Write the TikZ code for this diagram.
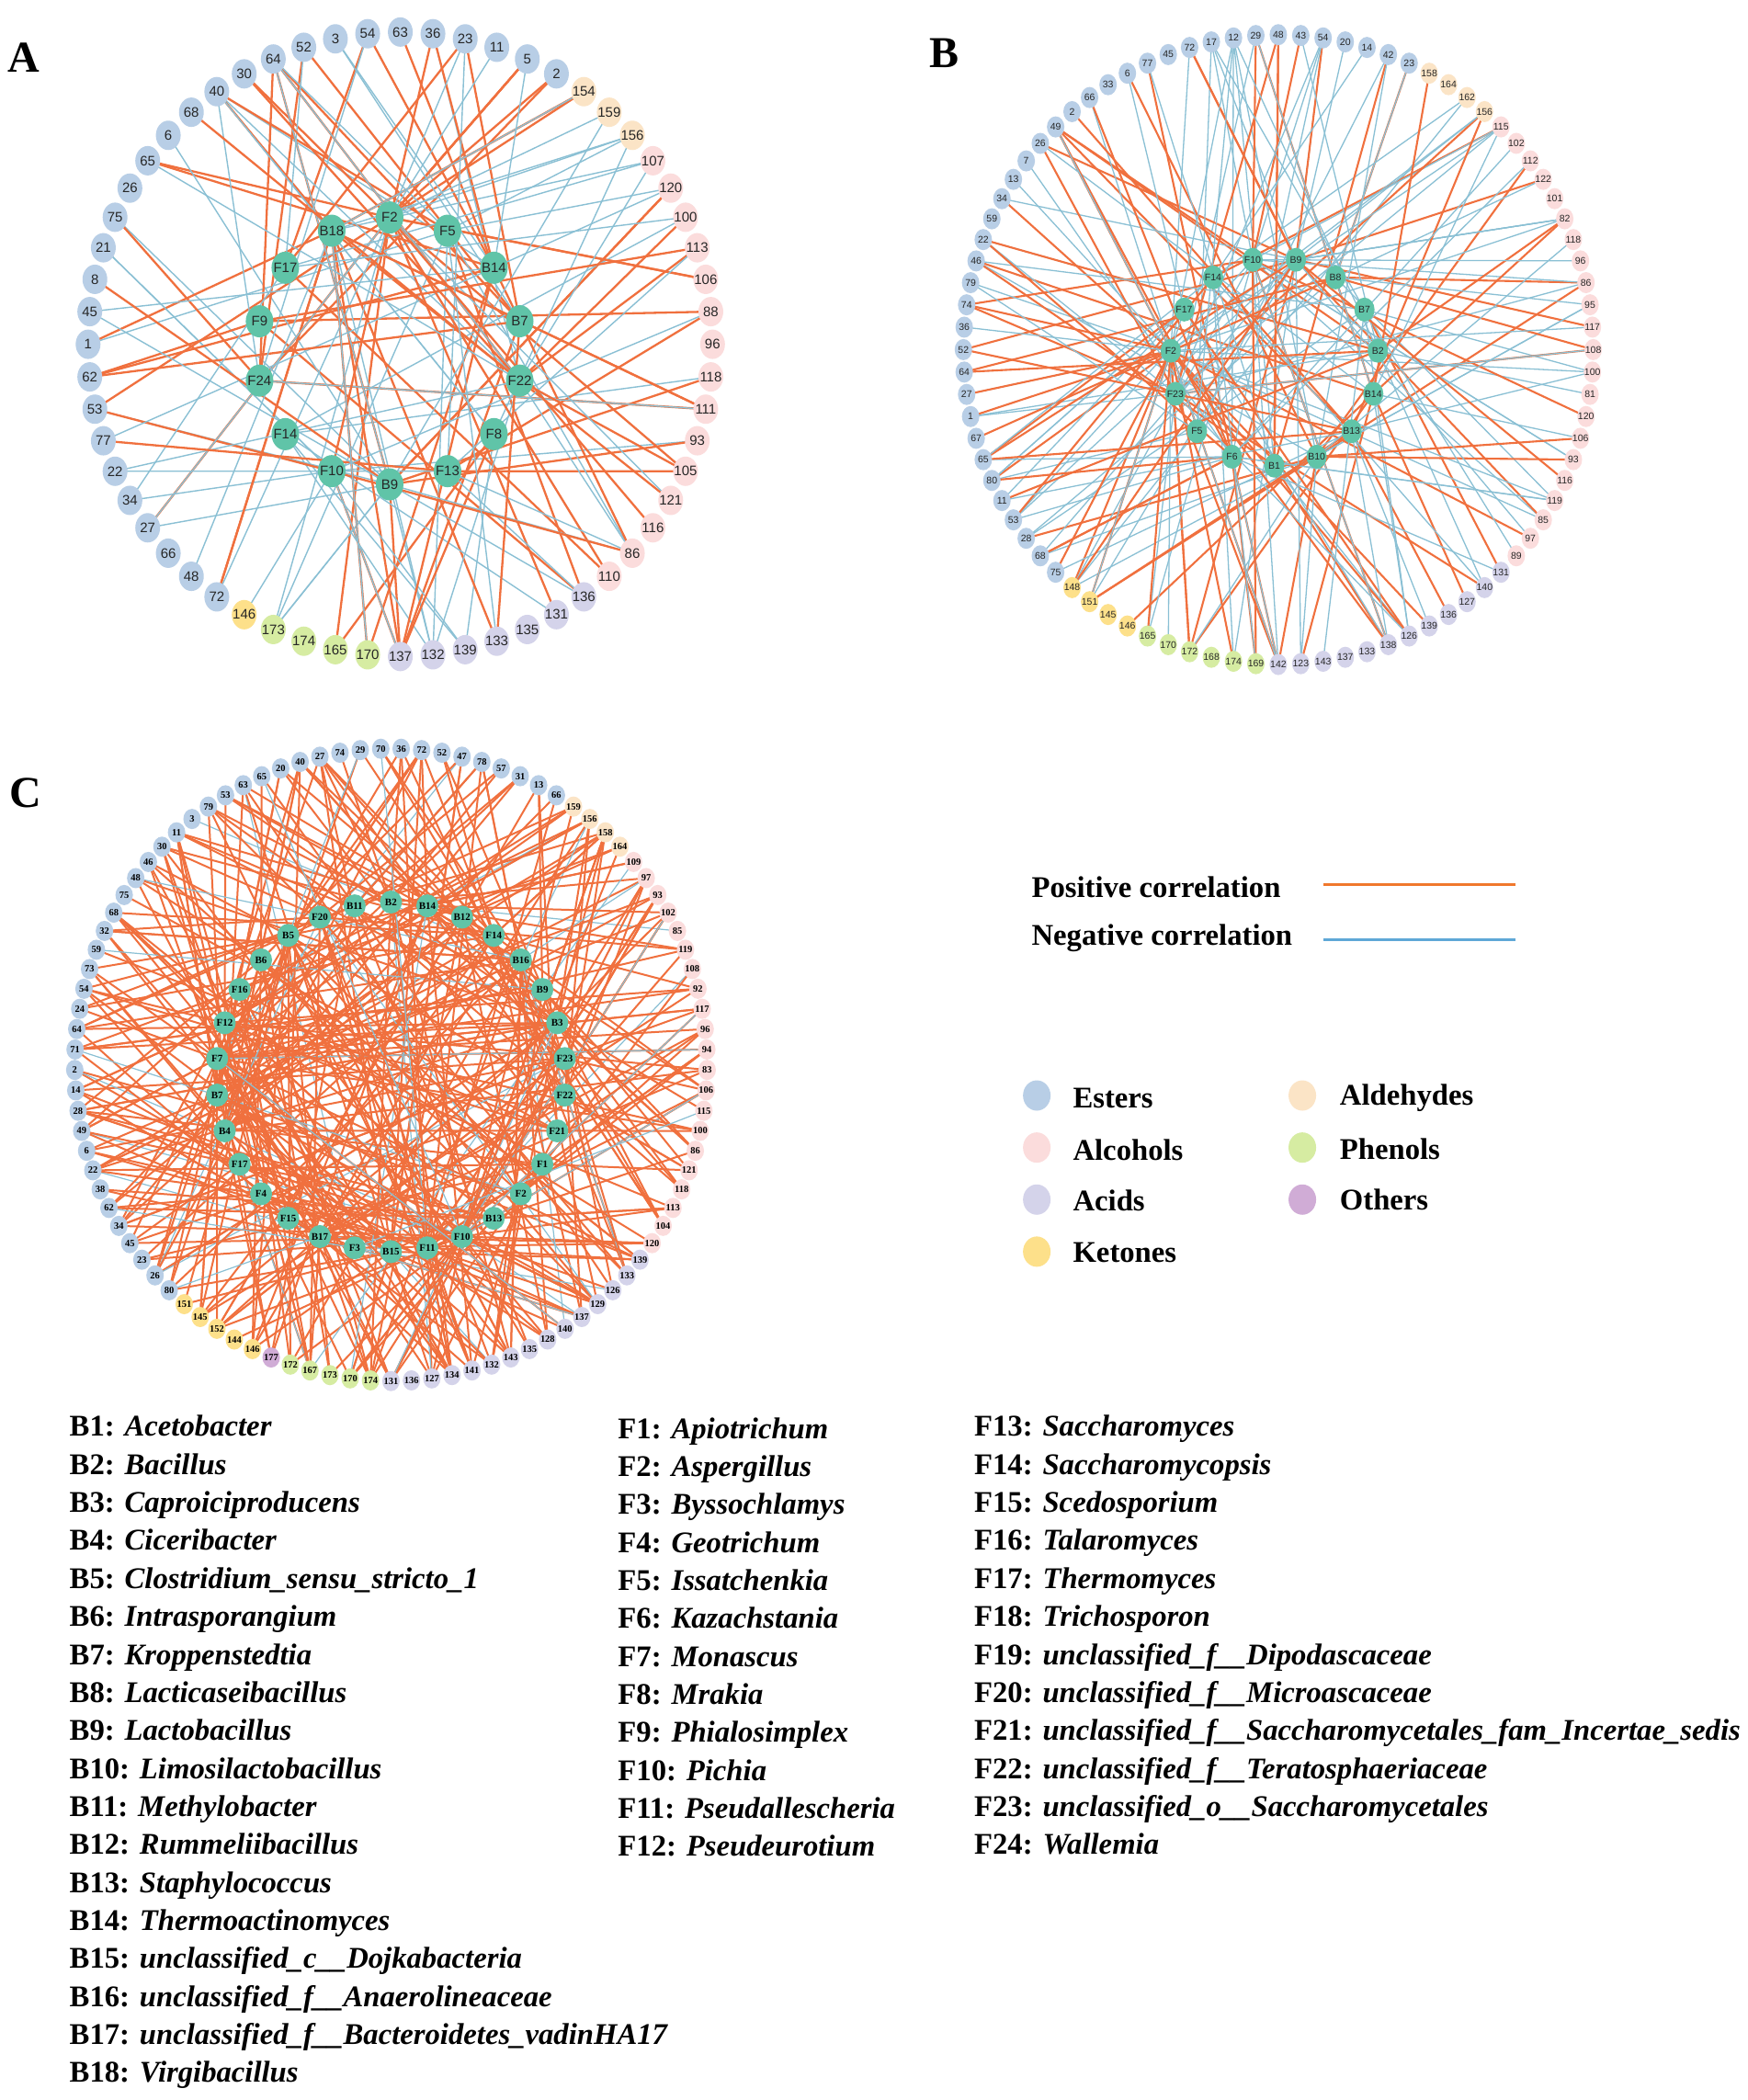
\documentclass[tikz,border=0pt]{standalone}
\usepackage{fontspec}
\setmainfont{Liberation Serif}
\newfontfamily\arialfont{Liberation Sans}
\usepackage{xcolor}
\usetikzlibrary{shapes.geometric, calc, backgrounds}

\definecolor{ester}{RGB}{184,206,230}
\definecolor{alcohol}{RGB}{251,220,220}
\definecolor{acid}{RGB}{212,211,234}
\definecolor{ketone}{RGB}{253,224,138}
\definecolor{aldehyde}{RGB}{251,228,198}
\definecolor{phenol}{RGB}{214,236,162}
\definecolor{other}{RGB}{208,172,214}
\definecolor{hubgreen}{RGB}{96,196,168}
\definecolor{posorange}{RGB}{240,112,62}
\definecolor{negblue}{RGB}{138,192,212}
\definecolor{legorange}{RGB}{240,120,45}
\definecolor{legblue}{RGB}{95,168,215}

\pgfmathdeclarerandomlist{hubsA}{{1}{1}{1}{1}{1}{8}{8}{8}{8}{8}{14}{14}{14}{5}{5}{5}{3}{3}{3}{9}{9}{7}{7}{10}{10}{11}{11}{13}{13}{12}{4}{4}{2}{2}{6}}
\pgfmathdeclarerandomlist{hubsB}{{1}{1}{2}{2}{3}{3}{4}{5}{5}{6}{7}{8}{8}{8}{9}{9}{10}{11}{12}{12}{12}{13}{13}{14}{15}{15}}
\pgfmathdeclarerandomlist{hubsC}{{1}{2}{3}{4}{5}{6}{7}{8}{9}{10}{11}{12}{13}{14}{15}{16}{17}{18}{19}{20}{21}{22}{23}{24}{25}{26}{27}{28}{29}{30}{24}{24}{24}{14}{14}{14}{7}{7}{8}{5}{15}{16}{25}{28}}

\begin{document}
\begin{tikzpicture}[
    x=1.452pt, y=-1.452pt,
    outA/.style={ellipse, minimum width=27pt, minimum height=32pt, inner sep=0pt, text=black!85, font=\arialfont\fontsize{15}{15}\selectfont},
    hubA/.style={ellipse, fill=hubgreen, minimum width=30pt, minimum height=35pt, inner sep=0pt, text=black!85, font=\arialfont\fontsize{15}{15}\selectfont},
    outB/.style={ellipse, minimum width=19pt, minimum height=23pt, inner sep=0pt, text=black!85, font=\arialfont\fontsize{10.5}{10.5}\selectfont},
    hubB/.style={ellipse, fill=hubgreen, minimum width=22pt, minimum height=26pt, inner sep=0pt, text=black!85, font=\arialfont\fontsize{10.5}{10.5}\selectfont},
    outC/.style={ellipse, minimum width=19pt, minimum height=22pt, inner sep=0pt, font=\bfseries\fontsize{10.5}{10.5}\selectfont},
    hubC/.style={ellipse, fill=hubgreen, minimum width=24pt, minimum height=25pt, inner sep=0pt, font=\bfseries\fontsize{11}{11}\selectfont},
    posA/.style={posorange, line width=2.3pt},
    negA/.style={negblue, line width=1.4pt},
    posB/.style={posorange, line width=2.1pt},
    negB/.style={negblue, line width=1.3pt},
    posC/.style={posorange, line width=2pt},
    negC/.style={negblue, line width=1.2pt},
    panel/.style={font=\bfseries\fontsize{48}{48}\selectfont, inner sep=0pt},
    legtext/.style={anchor=west, inner sep=0pt, font=\bfseries\fontsize{32.7}{36}\selectfont},
    legdot/.style={ellipse, minimum width=30pt, minimum height=33pt, inner sep=0pt},
    listtext/.style={anchor=base west, inner sep=0pt, font=\bfseries\fontsize{32.7}{36}\selectfont}
]
    \useasboundingbox (0,0) rectangle (1310,1573.8);
    \begin{scope}[on background layer]
        \fill[white] (0,0) rectangle (1310,1573.8);
    \end{scope}

    % panel letters
    \node[panel] (letA) at (18,43) {A};
    \node[panel] (letB) at (708,40) {B};
    \node[panel] (letC) at (19,594) {C};

    % ---------- A ----------
    \coordinate (Ac) at (300,258);
    \coordinate (Ahc) at (292,263);
    \foreach \lab [count=\k from 1] in {63,36,23,11,5,2}
        \node[outA, fill=ester] (Ao\k) at ($(Ac)+({-90+(\k-1)*6}:234)$) {\makebox[0pt]{\lab}};
    \foreach \lab [count=\k from 7] in {154,159,156}
        \node[outA, fill=aldehyde] (Ao\k) at ($(Ac)+({-90+(\k-1)*6}:234)$) {\makebox[0pt]{\lab}};
    \foreach \lab [count=\k from 10] in {107,120,100,113,106,88,96,118,111,93,105,121,116,86,110}
        \node[outA, fill=alcohol] (Ao\k) at ($(Ac)+({-90+(\k-1)*6}:234)$) {\makebox[0pt]{\lab}};
    \foreach \lab [count=\k from 25] in {136,131,135,133,139,132,137}
        \node[outA, fill=acid] (Ao\k) at ($(Ac)+({-90+(\k-1)*6}:234)$) {\makebox[0pt]{\lab}};
    \foreach \lab [count=\k from 32] in {170,165,174,173}
        \node[outA, fill=phenol] (Ao\k) at ($(Ac)+({-90+(\k-1)*6}:234)$) {\makebox[0pt]{\lab}};
    \node[outA, fill=ketone] (Ao36) at ($(Ac)+({-90+35*6}:234)$) {\makebox[0pt]{146}};
    \foreach \lab [count=\k from 37] in {72,48,66,27,34,22,77,53,62,1,45,8,21,75,26,65,6,68,40,30,64,52,3,54}
        \node[outA, fill=ester] (Ao\k) at ($(Ac)+({-90+(\k-1)*6}:234)$) {\makebox[0pt]{\lab}};
    \foreach \lab [count=\k] in {F2,F5,B14,B7,F22,F8,F13,B9,F10,F14,F24,F9,F17,B18}
        \node[hubA] (Ah\k) at ($(Ahc)+({-90+(\k-1)/14*360}:100)$) {\makebox[0pt]{\lab}};

    % ---------- B ----------
    \coordinate (Bc) at (958,262);
    \coordinate (Bhc) at (955,271);
    \foreach \lab [count=\k from 1] in {48,43,54,20,14,42,23}
        \node[outB, fill=ester] (Bo\k) at ($(Bc)+({-90+(\k-1)/88*360}:236)$) {\makebox[0pt]{\lab}};
    \foreach \lab [count=\k from 8] in {158,164,162,156}
        \node[outB, fill=aldehyde] (Bo\k) at ($(Bc)+({-90+(\k-1)/88*360}:236)$) {\makebox[0pt]{\lab}};
    \foreach \lab [count=\k from 12] in {115,102,112,122,101,82,118,96,86,95,117,108,100,81,120,106,93,116,119,85,97,89}
        \node[outB, fill=alcohol] (Bo\k) at ($(Bc)+({-90+(\k-1)/88*360}:236)$) {\makebox[0pt]{\lab}};
    \foreach \lab [count=\k from 34] in {131,140,127,136,139,126,138,133,137,143,123,142}
        \node[outB, fill=acid] (Bo\k) at ($(Bc)+({-90+(\k-1)/88*360}:236)$) {\makebox[0pt]{\lab}};
    \foreach \lab [count=\k from 46] in {169,174,168,172,170,165}
        \node[outB, fill=phenol] (Bo\k) at ($(Bc)+({-90+(\k-1)/88*360}:236)$) {\makebox[0pt]{\lab}};
    \foreach \lab [count=\k from 52] in {146,145,151,148}
        \node[outB, fill=ketone] (Bo\k) at ($(Bc)+({-90+(\k-1)/88*360}:236)$) {\makebox[0pt]{\lab}};
    \foreach \lab [count=\k from 56] in {75,68,28,53,11,80,65,67,1,27,64,52,36,74,79,46,22,59,34,13,7,26,49,2,66,33,6,77,45,72,17,12,29}
        \node[outB, fill=ester] (Bo\k) at ($(Bc)+({-90+(\k-1)/88*360}:236)$) {\makebox[0pt]{\lab}};
    \foreach \lab [count=\k] in {B1,B10,B13,B14,B2,B7,B8,B9,F10,F14,F17,F2,F23,F5,F6}
        \node[hubB] (Bh\k) at ($(Bhc)+({90-(\k-1)*24}:78)$) {\makebox[0pt]{\lab}};

    % ---------- C ----------
    \coordinate (Cc) at (293,798);
    \coordinate (Chc) at (293,807);
    \foreach \lab [count=\k from 1] in {70,36,72,52,47,78,57,31,13,66}
        \node[outC, fill=ester] (Co\k) at ($(Cc)+({-90+(\k-1.5)/97*360}:237)$) {\makebox[0pt]{\lab}};
    \foreach \lab [count=\k from 11] in {159,156,158,164}
        \node[outC, fill=aldehyde] (Co\k) at ($(Cc)+({-90+(\k-1.5)/97*360}:237)$) {\makebox[0pt]{\lab}};
    \foreach \lab [count=\k from 15] in {109,97,93,102,85,119,108,92,117,96,94,83,106,115,100,86,121,118,113,104,120}
        \node[outC, fill=alcohol] (Co\k) at ($(Cc)+({-90+(\k-1.5)/97*360}:237)$) {\makebox[0pt]{\lab}};
    \foreach \lab [count=\k from 36] in {139,133,126,129,137,140,128,135,143,132,141,134,127,136,131}
        \node[outC, fill=acid] (Co\k) at ($(Cc)+({-90+(\k-1.5)/97*360}:237)$) {\makebox[0pt]{\lab}};
    \foreach \lab [count=\k from 51] in {174,170,173,167,172}
        \node[outC, fill=phenol] (Co\k) at ($(Cc)+({-90+(\k-1.5)/97*360}:237)$) {\makebox[0pt]{\lab}};
    \node[outC, fill=other] (Co56) at ($(Cc)+({-90+54.5/97*360}:237)$) {\makebox[0pt]{177}};
    \foreach \lab [count=\k from 57] in {146,144,152,145,151}
        \node[outC, fill=ketone] (Co\k) at ($(Cc)+({-90+(\k-1.5)/97*360}:237)$) {\makebox[0pt]{\lab}};
    \foreach \lab [count=\k from 62] in {80,26,23,45,34,62,38,22,6,49,28,14,2,71,64,24,54,73,59,32,68,75,48,46,30,11,3,79,53,63,65,20,40,27,74,29}
        \node[outC, fill=ester] (Co\k) at ($(Cc)+({-90+(\k-1.5)/97*360}:237)$) {\makebox[0pt]{\lab}};
    \foreach \lab [count=\k] in {B2,B14,B12,F14,B16,B9,B3,F23,F22,F21,F1,F2,B13,F10,F11,B15,F3,B17,F15,F4,F17,B4,B7,F7,F12,F16,B6,B5,F20,B11}
        \node[hubC] (Ch\k) at ($(Chc)+({-90+(\k-1)*12}:131)$) {\makebox[0pt]{\lab}};

    % correlations, behind the nodes
    \begin{scope}[on background layer]
        \pgfmathsetseed{4021}
        \foreach \i in {1,...,160}{
            \pgfmathrandomitem{\h}{hubsA}
            \pgfmathrandominteger{\o}{1}{60}
            \pgfmathrandominteger{\s}{1}{100}
            \ifnum\s<55 \draw[posA] (Ah\h.center) -- (Ao\o.center);
            \else \draw[negA] (Ah\h.center) -- (Ao\o.center); \fi
        }
        \foreach \i in {1,...,220}{
            \pgfmathrandomitem{\h}{hubsB}
            \pgfmathrandominteger{\o}{1}{88}
            \pgfmathrandominteger{\s}{1}{100}
            \ifnum\s<45 \draw[posB] (Bh\h.center) -- (Bo\o.center);
            \else \draw[negB] (Bh\h.center) -- (Bo\o.center); \fi
        }
        \foreach \i in {1,...,450}{
            \pgfmathrandomitem{\h}{hubsC}
            \pgfmathrandominteger{\o}{1}{97}
            \pgfmathrandominteger{\s}{1}{100}
            \ifnum\s<87 \draw[posC] (Ch\h.center) -- (Co\o.center);
            \else \draw[negC] (Ch\h.center) -- (Co\o.center); \fi
        }
    \end{scope}

    % legend
    \node[legtext] (posText) at (773,665) {Positive correlation};
    \node[legtext] (negText) at (773,703) {Negative correlation};
    \coordinate (posL) at (992,663);
    \coordinate (posR) at (1136,663);
    \coordinate (negL) at (992,704);
    \coordinate (negR) at (1136,704);
    \draw[legorange, line width=3pt] (posL) -- (posR);
    \draw[legblue, line width=3pt] (negL) -- (negR);

    \node[legdot, fill=ester] (dotEster) at (777,821) {};
    \node[legtext] (txtEster) at (804,823) {Esters};
    \node[legdot, fill=alcohol] (dotAlcohol) at (777,860) {};
    \node[legtext] (txtAlcohol) at (804,862) {Alcohols};
    \node[legdot, fill=acid] (dotAcid) at (777,899) {};
    \node[legtext] (txtAcid) at (804,900) {Acids};
    \node[legdot, fill=ketone] (dotKetone) at (777,938) {};
    \node[legtext] (txtKetone) at (804,939) {Ketones};
    \node[legdot, fill=aldehyde] (dotAldehyde) at (976,821) {};
    \node[legtext] (txtAldehyde) at (1004,823) {Aldehydes};
    \node[legdot, fill=phenol] (dotPhenol) at (976,860) {};
    \node[legtext] (txtPhenol) at (1004,861) {Phenols};
    \node[legdot, fill=other] (dotOther) at (976,899) {};
    \node[legtext] (txtOther) at (1004,899) {Others};

    % genus key
    \foreach \id/\nm [count=\r] in {B1/Acetobacter, B2/Bacillus, B3/Caproiciproducens, B4/Ciceribacter, B5/Clostridium\_sensu\_stricto\_1, B6/Intrasporangium, B7/Kroppenstedtia, B8/Lacticaseibacillus, B9/Lactobacillus, B10/Limosilactobacillus, B11/Methylobacter, B12/Rummeliibacillus, B13/Staphylococcus, B14/Thermoactinomyces, B15/unclassified\_c\_\_Dojkabacteria, B16/unclassified\_f\_\_Anaerolineaceae, B17/unclassified\_f\_\_Bacteroidetes\_vadinHA17, B18/Virgibacillus}
        \node[listtext] (key\id) at (52,{1076.5+(\r-1)*28.47}) {\id: \textit{\nm}};
    \foreach \id/\nm [count=\r] in {F1/Apiotrichum, F2/Aspergillus, F3/Byssochlamys, F4/Geotrichum, F5/Issatchenkia, F6/Kazachstania, F7/Monascus, F8/Mrakia, F9/Phialosimplex, F10/Pichia, F11/Pseudallescheria, F12/Pseudeurotium}
        \node[listtext] (key\id) at (463,{1078+(\r-1)*28.47}) {\id: \textit{\nm}};
    \foreach \id/\nm [count=\r] in {F13/Saccharomyces, F14/Saccharomycopsis, F15/Scedosporium, F16/Talaromyces, F17/Thermomyces, F18/Trichosporon, F19/unclassified\_f\_\_Dipodascaceae, F20/unclassified\_f\_\_Microascaceae, F21/unclassified\_f\_\_Saccharomycetales\_fam\_Incertae\_sedis, F22/unclassified\_f\_\_Teratosphaeriaceae, F23/unclassified\_o\_\_Saccharomycetales, F24/Wallemia}
        \node[listtext] (key\id) at (730,{1076.5+(\r-1)*28.47}) {\id: \textit{\nm}};
\end{tikzpicture}
\end{document}
